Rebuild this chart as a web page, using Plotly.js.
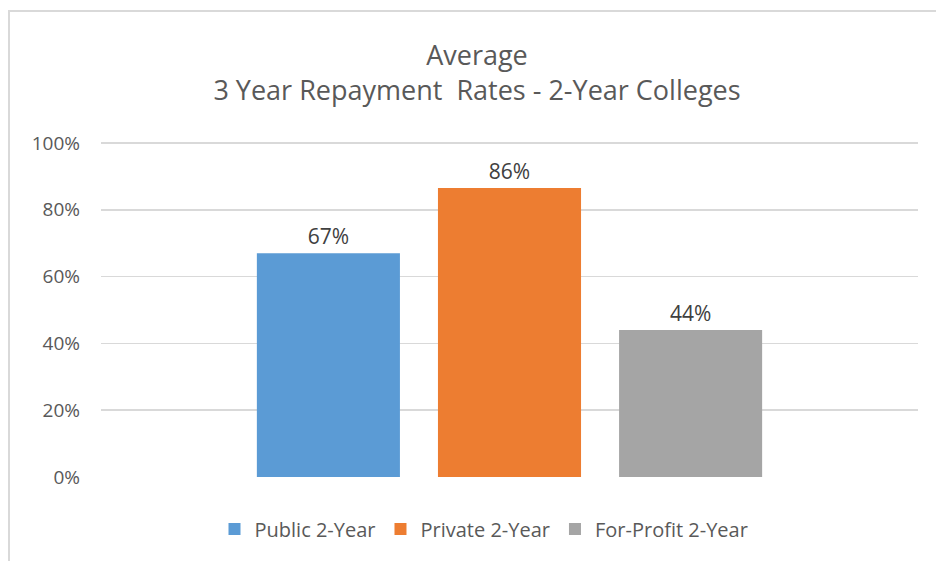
<!DOCTYPE html>
<html>
<head>
<meta charset="utf-8">
<script src="https://cdn.plot.ly/plotly-3.0.1.min.js"></script>
<style>
  body { margin: 0; overflow: hidden; background: #fff; }
  #chart { width: 936px; height: 561px; }
</style>
</head>
<body>
<div id="chart"></div>
<script>
// one category, one bar per series (Excel style)
let category = ["3 Year Repayment Rates"];
let seriesNames = ["Public 2-Year", "Private 2-Year", "For-Profit 2-Year"];
let seriesValues = [0.67, 0.865, 0.44];
let seriesLabels = ["67%", "86%", "44%"];
let seriesColors = ["#5b9bd5", "#ed7d31", "#a5a5a5"];
let yTicks = [0, 0.2, 0.4, 0.6, 0.8, 1];
let yTickText = ["0%", "20%", "40%", "60%", "80%", "100%"];

let font = "Open Sans, Liberation Sans, sans-serif";

let traces = [];
for (let i = 0; i < seriesNames.length; i++) {
    traces.push({
        type: 'bar',
        name: seriesNames[i],
        x: category,
        y: [seriesValues[i]],
        text: [seriesLabels[i]],
        textposition: 'outside',
        textfont: {family: font, size: 21, color: '#404040'},
        cliponaxis: false,
        marker: {color: seriesColors[i]},
        hoverinfo: 'name+y'
    });
}

// plot area: 0% at y=477, 100% at y=143, top padded 3px so the 100% gridline shows
let layout = {
    width: 936,
    height: 561,
    margin: {l: 101, r: 18, t: 140, b: 84},
    paper_bgcolor: '#ffffff',
    plot_bgcolor: '#ffffff',
    font: {family: font, color: '#595959'},
    title: {
        text: 'Average<br>3 Year Repayment  Rates - 2-Year Colleges',
        font: {family: font, size: 27, color: '#595959'},
        x: 477 / 936,
        xref: 'container',
        xanchor: 'center',
        y: 1 - 65 / 561,
        yref: 'container',
        yanchor: 'middle'
    },
    barmode: 'group',
    bargap: 0.335,
    bargroupgap: 0.21,
    xaxis: {
        showticklabels: false,
        showline: false,
        showgrid: false,
        zeroline: false,
        ticks: ''
    },
    yaxis: {
        range: [0, 337 / 334],
        tickvals: yTicks,
        ticktext: yTickText,
        tickfont: {family: font, size: 19, color: '#595959'},
        showgrid: true,
        gridcolor: '#d9d9d9',
        gridwidth: 1.5,
        zeroline: false,
        showline: false,
        ticks: '',
        ticklabelstandoff: 20
    },
    showlegend: true,
    legend: {
        orientation: 'h',
        x: (484 - 101) / 817,
        xanchor: 'center',
        y: (477 - 529) / 337,
        yanchor: 'middle',
        font: {family: font, size: 20, color: '#595959'},
        traceorder: 'normal'
    },
    shapes: [{
        type: 'rect',
        xref: 'paper', yref: 'paper',
        x0: (9 - 101) / 817, x1: 1.5,
        y0: -1, y1: (477 - 11) / 337,
        line: {color: '#d9d9d9', width: 2},
        layer: 'below'
    }]
};

Plotly.newPlot('chart', traces, layout, {displayModeBar: false, staticPlot: true});
</script>
</body>
</html>
